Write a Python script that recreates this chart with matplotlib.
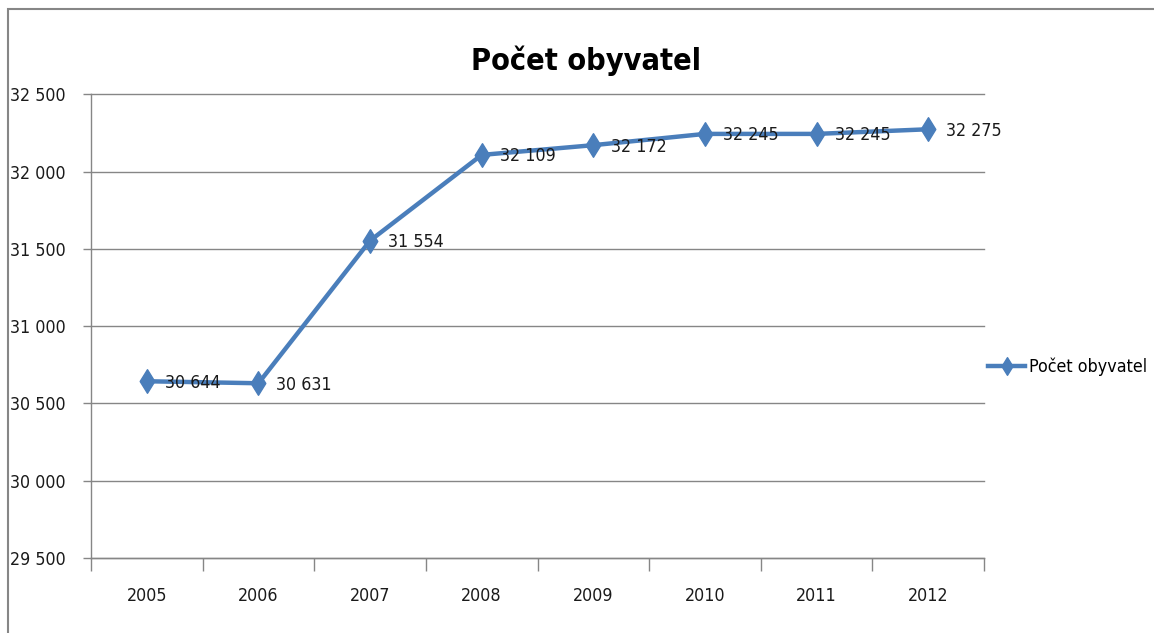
import matplotlib
matplotlib.use("Agg")
import matplotlib.pyplot as plt
import matplotlib.patches as patches
from matplotlib.path import Path
from matplotlib.ticker import FuncFormatter, FixedLocator

plt.rcParams['font.family'] = ['DejaVu Sans']
plt.rcParams['font.stretch'] = 'condensed'

# data
roky = ['2005', '2006', '2007', '2008', '2009', '2010', '2011', '2012']
obyvatele = [30644, 30631, 31554, 32109, 32172, 32245, 32245, 32275]
nazev = 'Počet obyvatel'

barva = '#4A7EBB'
seda = '#868686'
fs = 12.8

def tisice(v, pos=None):
    return '{:,}'.format(int(round(v))).replace(',', ' ')

# diamond a bit taller than wide, like the excel one
kosoctverec = Path([(0, 1), (0.62, 0), (0, -1), (-0.62, 0), (0, 1)],
                   [Path.MOVETO, Path.LINETO, Path.LINETO, Path.LINETO, Path.CLOSEPOLY])

fig = plt.figure(figsize=(11.54, 6.33), dpi=100)
W, H = 1154, 633

# chart frame (only left and top edge visible)
fig.add_artist(patches.Rectangle((8 / W, -0.05), 1.2, 1 - 9 / H + 0.05,
                                 transform=fig.transFigure, fill=False,
                                 edgecolor=seda, linewidth=1.5))

ax = fig.add_axes([91 / W, 1 - 558 / H, (984 - 91) / W, (558 - 94.5) / H])
x = list(range(len(roky)))
ax.plot(x, obyvatele, color=barva, linewidth=3.2, marker=kosoctverec,
        markersize=17, markerfacecolor=barva, markeredgecolor=barva,
        label=nazev, solid_joinstyle='round')

for xi, v in zip(x, obyvatele):
    ax.annotate(tisice(v), (xi, v), xytext=(13, -1), textcoords='offset points',
                ha='left', va='center', fontsize=fs, color='#1a1a1a')

ax.set_xlim(-0.5, len(roky) - 0.5)
ax.set_ylim(29500, 32500)
ax.set_yticks(range(29500, 32501, 500))
ax.yaxis.set_major_formatter(FuncFormatter(tisice))
ax.set_xticks(x)
ax.set_xticklabels(roky)
ax.xaxis.set_minor_locator(FixedLocator([i - 0.5 for i in range(len(roky) + 1)]))

ax.tick_params(axis='x', which='major', length=0, pad=21, labelsize=fs, labelcolor='#1a1a1a')
ax.tick_params(axis='x', which='minor', length=9, width=1, color=seda, direction='out')
ax.tick_params(axis='y', length=6, width=1, color=seda, pad=12, labelsize=fs, labelcolor='#1a1a1a')

ax.grid(axis='y', color=seda, linewidth=1)
for g in ax.get_ygridlines():
    g.set_clip_on(False)
ax.set_axisbelow(True)
for s in ['top', 'right']:
    ax.spines[s].set_visible(False)
for s in ['left', 'bottom']:
    ax.spines[s].set_color(seda)
    ax.spines[s].set_linewidth(1)

fig.text(586 / W, 1 - 61 / H, nazev, ha='center', va='center',
         fontsize=22, fontweight='bold', color='black')

fig.legend(loc='center left', bbox_to_anchor=(988 / W, 1 - 367 / H),
           frameon=False, fontsize=fs, handlelength=2.1, handletextpad=0.2,
           borderpad=0, borderaxespad=0, markerscale=0.75)

fig.savefig('out.png', dpi=100, facecolor='white')
